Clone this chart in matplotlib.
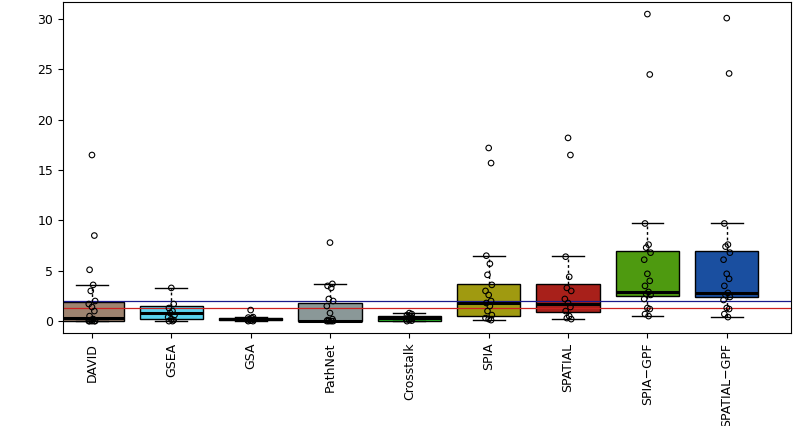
import matplotlib
matplotlib.use("Agg")
import matplotlib.pyplot as plt

categories = ["DAVID", "GSEA", "GSA", "PathNet", "Crosstalk", "SPIA", "SPATIAL", "SPIA\u2212GPF", "SPATIAL\u2212GPF"]
q1 = [0.0, 0.2, 0.1, 0.0, 0.0, 0.5, 0.9, 2.5, 2.4]
med = [0.3, 0.8, 0.2, 0.05, 0.3, 1.8, 1.7, 2.9, 2.8]
q3 = [1.9, 1.55, 0.3, 1.8, 0.5, 3.7, 3.7, 7.0, 7.0]
whislo = [0.0, 0.0, 0.0, 0.0, 0.0, 0.1, 0.2, 0.5, 0.4]
whishi = [3.6, 3.3, 0.45, 3.7, 0.85, 6.5, 6.5, 9.7, 9.7]
points = [
    [16.5, 8.5, 5.1, 3.6, 3.0, 2.0, 1.7, 1.4, 1.0, 0.5, 0.2, 0.1, 0.0, 0.0, 0.0, 0.0, 0.0],
    [3.3, 1.7, 1.3, 1.0, 0.8, 0.6, 0.4, 0.2, 0.1, 0.0, 0.0],
    [1.1, 0.4, 0.35, 0.3, 0.2, 0.15, 0.1, 0.05, 0.0, 0.0],
    [7.8, 3.7, 3.5, 3.3, 2.2, 2.0, 1.5, 0.8, 0.2, 0.1, 0.0, 0.0, 0.0, 0.0],
    [0.8, 0.7, 0.6, 0.5, 0.4, 0.3, 0.2, 0.1, 0.05, 0.0],
    [17.2, 15.7, 6.5, 5.7, 4.6, 3.6, 3.0, 2.6, 2.0, 1.8, 1.5, 1.0, 0.6, 0.3, 0.2, 0.1],
    [18.2, 16.5, 6.4, 4.4, 3.3, 3.0, 2.2, 1.8, 1.4, 1.0, 0.5, 0.3, 0.2],
    [30.5, 24.5, 9.7, 7.6, 7.3, 6.8, 6.1, 4.7, 4.0, 3.5, 2.9, 2.7, 2.6, 2.2, 1.3, 1.2, 0.7, 0.5],
    [30.1, 24.6, 9.7, 7.6, 7.4, 6.8, 6.1, 4.7, 4.2, 3.5, 2.8, 2.6, 2.4, 2.1, 1.3, 1.2, 0.7, 0.4],
]
colors = ["#9e8470", "#5ad4f0", "#222222", "#8a9898", "#2ec72e", "#a09a10", "#a8201a", "#4e9a10", "#1a4fa0"]
blue_line = 2.0
red_line = 1.3

fig = plt.figure(figsize=(7.96, 4.26), dpi=100)
ax = fig.add_axes([63/796, 1-333/426, (791-63)/796, (333-2)/426])
pos = list(range(1, len(categories)+1))
stats = [dict(q1=a, med=b, q3=c, whislo=d, whishi=e, fliers=[]) for a, b, c, d, e in zip(q1, med, q3, whislo, whishi)]
bp = ax.bxp(stats, positions=pos, widths=0.8, patch_artist=True, showfliers=False,
            medianprops=dict(color="black", lw=2.2),
            whiskerprops=dict(color="black", ls=(0, (2, 2)), lw=1),
            capprops=dict(color="black", lw=1), capwidths=0.4,
            boxprops=dict(edgecolor="black", lw=1))
for p, c in zip(bp["boxes"], colors):
    p.set_facecolor(c)
ax.axhline(blue_line, color="#1a1a8c", lw=0.9)
ax.axhline(red_line, color="#cc2020", lw=0.9)
offs = [0, 0.03, -0.03, 0.015, -0.015, 0.04, -0.04]
for i, pts in enumerate(points):
    xs = [pos[i] + offs[j % len(offs)] for j in range(len(pts))]
    ax.scatter(xs, pts, s=16, facecolors="none", edgecolors="black", lw=0.8, zorder=5)
ax.set_xlim(0.635, 9.81)
ax.set_ylim(-1.18, 31.7)
ax.set_yticks([0, 5, 10, 15, 20, 25, 30])
ax.set_xticks(pos)
ax.set_xticklabels(categories, rotation=90, fontsize=9)
ax.tick_params(labelsize=9)
fig.savefig("out.png", dpi=100)
